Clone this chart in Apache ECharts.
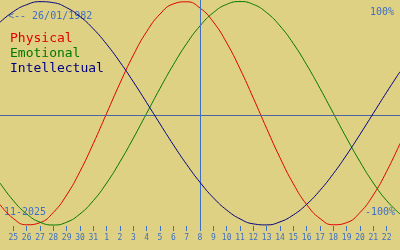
<!DOCTYPE html>
<html>
<head>
<meta charset="utf-8">
<script src="https://cdn.jsdelivr.net/npm/echarts@6/dist/echarts.min.js"></script>
<style>
html,body{margin:0;padding:0;background:#dfd184;}
#c{width:400px;height:250px;}
</style>
</head>
<body>
<div id="c"></div>
<script>
// Days Oct 24 2025 .. Nov 23 2025
var days = ['24','25','26','27','28','29','30','31','1','2','3','4','5','6','7','8','9','10','11','12','13','14','15','16','17','18','19','20','21','22','23'];
// Biorhythm values in percent (one per day)
var physical = [-81.7,-94.2,-99.8,-97.9,-88.8,-73.1,-52.0,-27.0,0,27.0,52.0,73.1,88.8,97.9,99.8,94.2,81.7,63.1,39.8,13.6,-13.6,-39.8,-63.1,-81.7,-94.2,-99.8,-97.9,-88.8,-73.1,-52.0,-27.0];
var emotional = [-62.4,-78.2,-90.1,-97.5,-100,-97.5,-90.1,-78.2,-62.4,-43.4,-22.3,0,22.3,43.4,62.4,78.2,90.1,97.5,100,97.5,90.1,78.2,62.4,43.4,22.3,0,-22.3,-43.4,-62.4,-78.2,-90.1];
var intellectual = [81.5,91.0,97.2,99.9,99.0,94.5,86.6,75.6,61.8,45.8,28.2,9.5,-9.5,-28.2,-45.8,-61.8,-75.6,-86.6,-94.5,-99.0,-99.9,-97.2,-91.0,-81.5,-69.0,-54.1,-37.2,-18.9,0,18.9,37.2];
var seriesNames = ['Physical','Emotional','Intellectual'];
var seriesColors = ['#e00000','#007800','#000080'];
var birthLabel = '<-- 26/01/1982';
var monthLabel = '11-2025';
var topLabel = '100%';
var bottomLabel = '-100%';
var todayLabel = '8';
var midValue = -1.5;

var blue = '#3d6fc4';
var chart = echarts.init(document.getElementById('c'), null, {renderer:'canvas'});
var lastIdx = days.length - 1;
function showIdx(i){ return i > 0 && i < lastIdx; }

var allData = [physical, emotional, intellectual];
var series = seriesNames.map(function(n, k){
  return {
    name: n, type: 'line', data: allData[k], smooth: true, symbol: 'none',
    lineStyle: {color: seriesColors[k], width: 1}, itemStyle: {color: seriesColors[k]},
    z: 3 + k
  };
});
series.push({
  name: 'ref', type: 'line', data: [], symbol: 'none',
  markLine: {
    silent: true, symbol: 'none', animation: false,
    label: {show: false},
    data: [
      {yAxis: midValue, lineStyle: {color: '#4a66a0', width: 1, type: 'solid'}},
      {xAxis: todayLabel, lineStyle: {color: blue, width: 1, type: 'solid'}}
    ]
  },
  z: 2
});

chart.setOption({
  backgroundColor: '#dfd184',
  animation: false,
  grid: {left: 0, right: 0, top: 0, bottom: 24},
  xAxis: {
    type: 'category', data: days, boundaryGap: false,
    axisLine: {show: false, onZero: false},
    axisTick: {show: true, length: 5, lineStyle: {color: blue, width: 1}, interval: function(i){ return showIdx(i); }},
    axisLabel: {color: blue, fontFamily: 'DejaVu Sans Mono', fontSize: 8, margin: 8, interval: function(i){ return showIdx(i); }},
    splitLine: {show: false}
  },
  yAxis: {
    type: 'value', min: -100.9, max: 101.4, show: false
  },
  legend: {
    orient: 'vertical', left: 0, top: 26, icon: 'none', itemWidth: 0, itemHeight: 0, itemGap: 0,
    data: seriesNames.map(function(n, k){ return {name: n, textStyle: {color: seriesColors[k]}}; }),
    textStyle: {fontFamily: 'DejaVu Sans Mono', fontSize: 13, lineHeight: 15},
    selectedMode: false
  },
  graphic: [
    {type: 'text', left: 8, top: 11, style: {text: birthLabel, fill: blue, font: '10px "DejaVu Sans Mono"'}},
    {type: 'text', right: 6, top: 7, style: {text: topLabel, fill: blue, font: '10px "DejaVu Sans Mono"'}},
    {type: 'text', right: 5, top: 207, style: {text: bottomLabel, fill: blue, font: '10px "DejaVu Sans Mono"'}},
    {type: 'text', left: 4, top: 207, style: {text: monthLabel, fill: blue, font: '10px "DejaVu Sans Mono"'}}
  ],
  series: series
});
</script>
</body>
</html>
